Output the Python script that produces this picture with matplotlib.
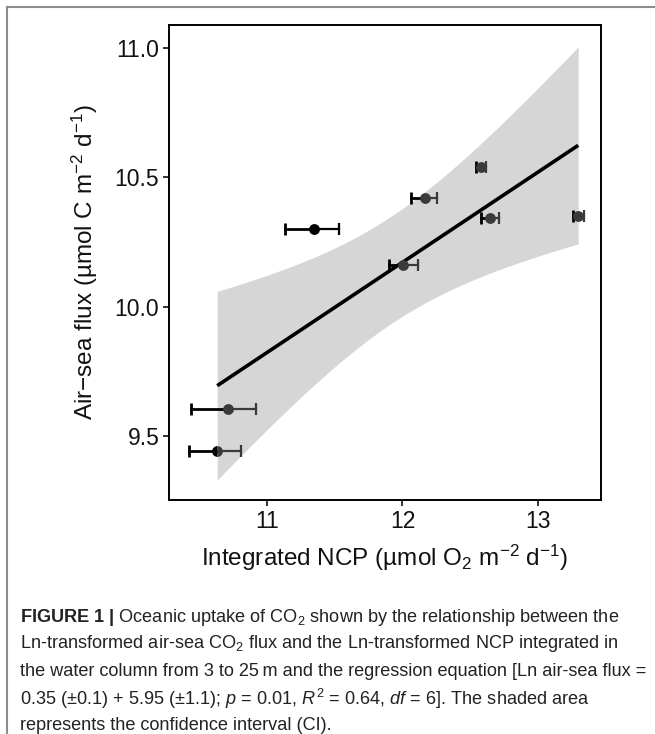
import numpy as np
import matplotlib
matplotlib.use("Agg")
import matplotlib.pyplot as plt
from matplotlib.lines import Line2D

plt.rcParams['font.family'] = ['Liberation Sans', 'DejaVu Sans']
plt.rcParams['mathtext.fontset'] = 'custom'
plt.rcParams['mathtext.rm'] = 'Liberation Sans'
plt.rcParams['mathtext.it'] = 'Liberation Sans:italic'
plt.rcParams['mathtext.bf'] = 'Liberation Sans:bold'

#Ln-transformed values.
ncp = np.array([11.350, 12.166, 12.578, 12.645, 13.294, 12.007, 10.713, 10.636])
flux = np.array([10.298, 10.420, 10.539, 10.341, 10.349, 10.159, 9.607, 9.443])
ncp_err_lo = np.array([0.215, 0.103, 0.040, 0.066, 0.040, 0.107, 0.272, 0.208])
ncp_err_hi = np.array([0.184, 0.091, 0.040, 0.066, 0.040, 0.104, 0.208, 0.177])
point_col = ['black', '#3a3a3a', '#3a3a3a', '#3a3a3a', '#3a3a3a', '#3a3a3a', '#3a3a3a', '#3a3a3a']
point_fill = ['full', 'full', 'full', 'full', 'full', 'full', 'full', 'left']
hi_col = ['black', '#3a3a3a', '#3a3a3a', '#3a3a3a', '#3a3a3a', '#3a3a3a', '#3a3a3a', '#3a3a3a']
x_ticks = [11, 12, 13]
y_ticks = [9.5, 10.0, 10.5, 11.0]

caption = [
    r"$\mathbf{FIGURE\ 1\ |}$ Oceanic uptake of CO$_2$ shown by the relationship between the",
    "Ln-transformed air-sea CO$_2$ flux and the Ln-transformed NCP integrated in",
    "the water column from 3 to 25\u2009m and the regression equation [Ln air-sea flux =",
    r"0.35 ($\pm$0.1) + 5.95 ($\pm$1.1); $p$ = 0.01, $R^2$ = 0.64, $df$ = 6]. The shaded area",
    "represents the confidence interval (CI).",
]

fig = plt.figure(figsize=(6.55, 7.34), dpi=100)
ax = fig.add_axes([0.258, 0.3188, 0.6596, 0.6471])

#Linear fit with 95% confidence band (as geom_smooth(method="lm")).
slope, intercept = np.polyfit(ncp, flux, 1)
xs = np.linspace(ncp.min(), ncp.max(), 100)
fit = intercept + slope * xs
n = len(ncp)
resid = flux - (intercept + slope * ncp)
s = np.sqrt(np.sum(resid ** 2) / (n - 2))
sxx = np.sum((ncp - ncp.mean()) ** 2)
t = 2.446912  # t quantile 0.975, df = 6
half = t * s * np.sqrt(1.0 / n + (xs - ncp.mean()) ** 2 / sxx)
ax.fill_between(xs, fit - half, fit + half, color='#d6d6d6', lw=0, zorder=1)
ax.plot(xs, fit, color='black', lw=2.6, zorder=2, solid_capstyle='butt')

#Error bars: left arm black, right arm dark grey.
for i in range(n):
    ax.plot([ncp[i] - ncp_err_lo[i], ncp[i]], [flux[i], flux[i]], color='black', lw=2.0, zorder=3)
    ax.plot([ncp[i] - ncp_err_lo[i]], [flux[i]], marker='|', ms=9, mew=2.0, color='black', zorder=3)
    ax.plot([ncp[i], ncp[i] + ncp_err_hi[i]], [flux[i], flux[i]], color=hi_col[i], lw=1.6, zorder=3)
    ax.plot([ncp[i] + ncp_err_hi[i]], [flux[i]], marker='|', ms=9, mew=1.6, color=hi_col[i], zorder=3)

for i in range(n):
    ax.plot(ncp[i], flux[i], 'o', ms=7.8, mec='none', fillstyle=point_fill[i],
            mfc=('black' if point_fill[i] == 'left' else point_col[i]),
            markerfacecoloralt=point_col[i], zorder=4)

ax.set_xlim(10.281, 13.462)
ax.set_ylim(9.254, 11.087)
ax.set_xticks(x_ticks)
ax.set_yticks(y_ticks)
ax.set_xticklabels([str(v) for v in x_ticks])
ax.set_yticklabels(["%.1f" % v for v in y_ticks])
for sp in ax.spines.values():
    sp.set_linewidth(1.4)
    sp.set_color('black')
ax.tick_params(length=4, width=1.4, color='#333333', labelsize=16.5, labelcolor='#111111', pad=3)

ax.set_xlabel("Integrated NCP (\u00b5mol O$_2$ m$^{-2}$ d$^{-1}$)", fontsize=17.5, color='#111111')
ax.set_ylabel("Air\u2212sea flux (\u00b5mol C m$^{-2}$ d$^{-1}$)", fontsize=17.5, color='#111111')
ax.xaxis.label.set_va('center')
ax.yaxis.label.set_va('center')
ax.xaxis.set_label_coords(0.5, -0.122)
ax.yaxis.set_label_coords(-0.194, 0.5)

#Page frame lines (top and left).
fig.add_artist(Line2D([7 / 655, 7 / 655], [0, 1 - 7 / 734], transform=fig.transFigure, color='#8c8c8c', lw=1.5))
fig.add_artist(Line2D([7 / 655, 1], [1 - 7 / 734, 1 - 7 / 734], transform=fig.transFigure, color='#8c8c8c', lw=1.5))

#Caption.
cap_y = [617, 644, 671, 699, 726]
for line, yy in zip(caption, cap_y):
    fig.text(20 / 655, 1 - yy / 734, line, fontsize=13.1, color='#222222', va='center', ha='left')

fig.savefig("out.png", dpi=100)
